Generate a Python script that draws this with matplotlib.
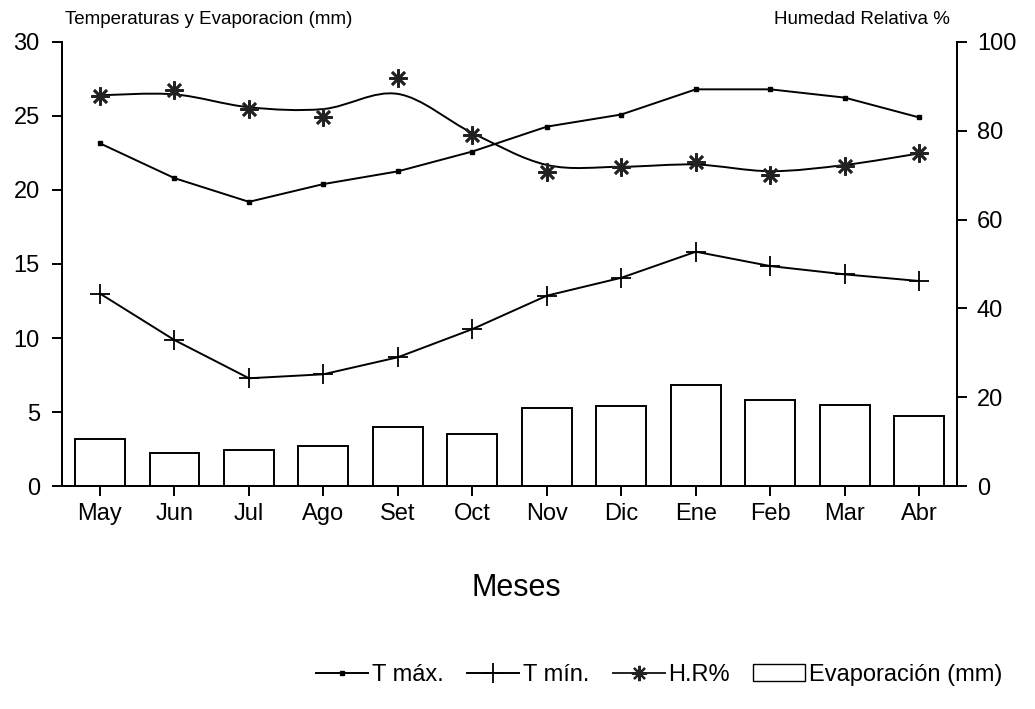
import numpy as np
import matplotlib
matplotlib.use('Agg')
import matplotlib.pyplot as plt
from matplotlib.path import Path
from matplotlib.patches import PathPatch, Patch
from matplotlib.lines import Line2D

plt.rcParams['font.family'] = ['Liberation Sans', 'DejaVu Sans']

# data
meses = ['May', 'Jun', 'Jul', 'Ago', 'Set', 'Oct', 'Nov', 'Dic', 'Ene', 'Feb', 'Mar', 'Abr']
evaporacion = [3.15, 2.2, 2.43, 2.7, 4.0, 3.5, 5.3, 5.4, 6.8, 5.8, 5.45, 4.7]
t_max = [23.15, 20.8, 19.2, 20.4, 21.26, 22.6, 24.28, 25.1, 26.8, 26.8, 26.24, 24.9]
t_min = [13.0, 9.86, 7.28, 7.55, 8.7, 10.6, 12.86, 14.07, 15.83, 14.86, 14.3, 13.85]
hr = [87.9, 89.2, 85.0, 83.0, 91.8, 79.0, 70.8, 71.9, 73.0, 70.0, 72.1, 74.9]
# smoothed H.R curve as drawn (value of the curve at each month)
hr_curva = [88.0, 88.2, 85.3, 84.9, 88.3, 79.5, 72.3, 71.9, 72.4, 70.9, 72.3, 74.9]

x = np.arange(len(meses))

fig = plt.figure(figsize=(10.35, 7.09), dpi=100)
ax = fig.add_axes([0.0602, 0.3145, 0.8647, 0.6263])
bx = ax.twinx()

lw = 1.4
ax.bar(x, evaporacion, width=0.67, facecolor='white', edgecolor='black', linewidth=lw, zorder=2)
ax.plot(x, t_max, '-', color='black', lw=lw, marker='s', ms=3.5, zorder=3)
ax.plot(x, t_min, '-', color='black', lw=lw, marker='+', ms=14, mew=1.3, zorder=3)

# smooth curve for H.R (bezier through the curve values)
pts = np.column_stack([x, hr_curva]).astype(float)
verts = [pts[0]]
codes = [Path.MOVETO]
n = len(pts)
for i in range(n - 1):
    p0 = pts[max(i - 1, 0)]
    p1 = pts[i]
    p2 = pts[i + 1]
    p3 = pts[min(i + 2, n - 1)]
    c1 = p1 + (p2 - p0) / 6.0
    c2 = p2 - (p3 - p1) / 6.0
    verts += [c1, c2, p2]
    codes += [Path.CURVE4, Path.CURVE4, Path.CURVE4]
bx.add_patch(PathPatch(Path(verts, codes), facecolor='none', edgecolor='black', lw=lw, zorder=3))
bx.plot(x, hr, ls='none', color='#222222', marker=(8, 2, 0), ms=13, mew=1.9, zorder=4)

ax.set_xlim(-0.506, 11.51)
ax.set_ylim(0, 30)
bx.set_ylim(0, 100)
ax.set_yticks([0, 5, 10, 15, 20, 25, 30])
bx.set_yticks([0, 20, 40, 60, 80, 100])
ax.set_xticks(x)
ax.set_xticklabels(meses)

for a in (ax, bx):
    a.spines['top'].set_visible(False)
    for s in a.spines.values():
        s.set_linewidth(1.4)
ax.tick_params(axis='y', direction='out', length=7.2, width=1.4, labelsize=17, pad=9)
ax.tick_params(axis='x', direction='out', length=7.2, width=1.4, labelsize=17, pad=5)
bx.tick_params(axis='y', direction='out', length=7.2, width=1.4, labelsize=17, pad=7)

fig.text(0.063, 0.972, 'Temperaturas y Evaporacion (mm)', fontsize=13.5, ha='left', va='center')
fig.text(0.918, 0.972, 'Humedad Relativa %', fontsize=13.5, ha='right', va='center')
fig.text(0.499, 0.171, 'Meses', fontsize=22, ha='center', va='center')

handles = [
    Line2D([], [], color='black', lw=lw, marker='s', ms=3.5),
    Line2D([], [], color='black', lw=lw, marker='+', ms=14, mew=1.3),
    Line2D([], [], color='#222222', lw=lw, marker=(8, 2, 0), ms=11, mew=1.6),
    Patch(facecolor='white', edgecolor='black', linewidth=1.0),
]
labels = ['T máx.', 'T mín.', 'H.R%', 'Evaporación (mm)']
fig.legend(handles, labels, loc='center', bbox_to_anchor=(0.637, 0.048), ncol=4, frameon=False,
           fontsize=17, handlelength=2.2, handletextpad=0.15, columnspacing=1.0, numpoints=1)

fig.savefig('out.png', dpi=100)
